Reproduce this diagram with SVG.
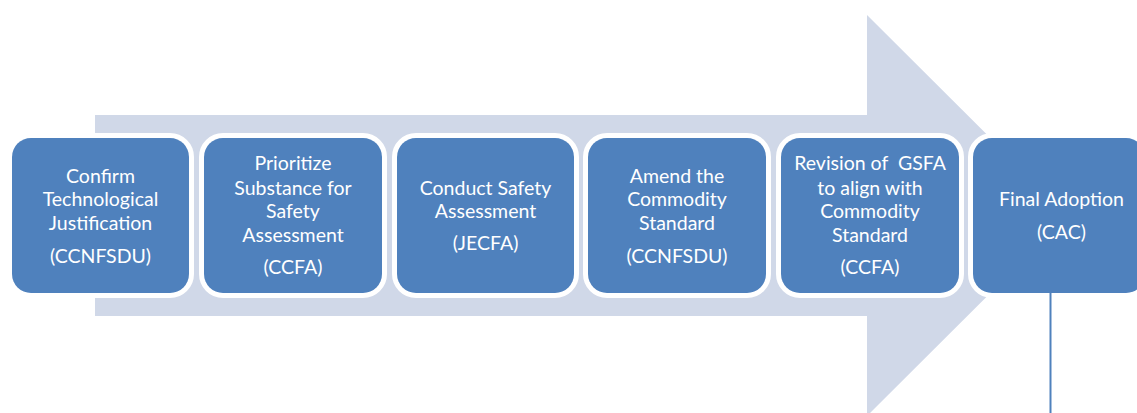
<svg xmlns="http://www.w3.org/2000/svg" width="1137" height="413" viewBox="0 0 1137 413">
<style>
.box{fill:#4F81BD;stroke:#FFFFFF;stroke-width:10;paint-order:stroke}
.t{font-family:Lato,"Liberation Sans",sans-serif;font-size:19.5px;fill:#FFFFFF;text-anchor:middle}
</style>
<rect width="1137" height="413" fill="#FFFFFF"/>
<path id="arrow" d="M95,115 H867 V15 L1068,215.5 L867,416 V316 H95 Z" fill="#D0D8E8"/>
<g id="n1"><rect class="box" x="12" y="138" width="177" height="155" rx="19"/>
<text class="t" x="100.5" y="182.5">Confirm</text><text class="t" x="100.5" y="206">Technological</text><text class="t" x="100.5" y="229.5">Justification</text><text class="t" x="100.5" y="262.5">(CCNFSDU)</text></g>
<g id="n2"><rect class="box" x="204" y="138" width="178" height="155" rx="19"/>
<text class="t" x="293" y="170">Prioritize</text><text class="t" x="293" y="194.5">Substance for</text><text class="t" x="293" y="218">Safety</text><text class="t" x="293" y="241.5">Assessment</text><text class="t" x="293" y="273.5">(CCFA)</text></g>
<g id="n3"><rect class="box" x="397" y="138" width="177" height="155" rx="19"/>
<text class="t" x="485.5" y="194.5">Conduct Safety</text><text class="t" x="485.5" y="218">Assessment</text><text class="t" x="485.5" y="250">(JECFA)</text></g>
<g id="n4"><rect class="box" x="588" y="138" width="178" height="155" rx="19"/>
<text class="t" x="677" y="182.5">Amend the</text><text class="t" x="677" y="206">Commodity</text><text class="t" x="677" y="229.5">Standard</text><text class="t" x="677" y="262.5">(CCNFSDU)</text></g>
<g id="n5"><rect class="box" x="781" y="138" width="178" height="155" rx="19"/>
<text class="t" x="870" y="170" xml:space="preserve">Revision of  GSFA</text><text class="t" x="870" y="194.5">to align with</text><text class="t" x="870" y="218">Commodity</text><text class="t" x="870" y="241.5">Standard</text><text class="t" x="870" y="273.5">(CCFA)</text></g>
<g id="n6"><rect class="box" x="973" y="138" width="172" height="155" rx="19"/>
<text class="t" x="1061.5" y="206">Final Adoption</text><text class="t" x="1061.5" y="238.5">(CAC)</text></g>
<g id="connectors"><line x1="1050.5" y1="293" x2="1050.5" y2="413" stroke="#4F81BD" stroke-width="2"/></g>
</svg>
